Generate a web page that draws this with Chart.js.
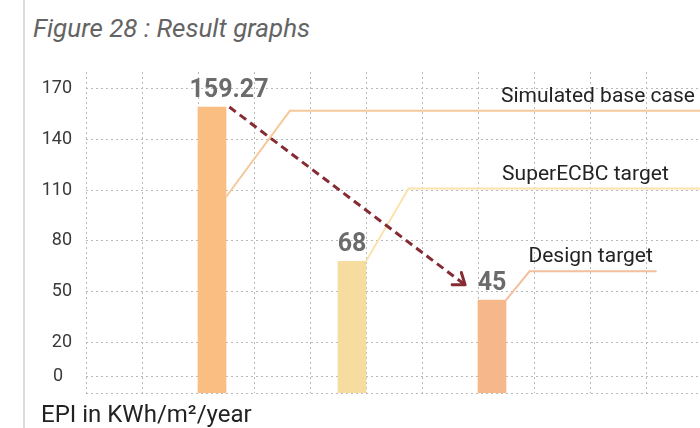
<!DOCTYPE html>
<html>
<head>
<meta charset="utf-8">
<title>Result graphs</title>
<script src="https://cdn.jsdelivr.net/npm/chart.js@4.4.1/dist/chart.umd.min.js"></script>
<style>
  html, body { margin: 0; padding: 0; background: #fff; overflow: hidden; }
  #page { position: relative; width: 700px; height: 428px; overflow: hidden; background: #fff; }
  #rule { position: absolute; left: 23px; top: 0; width: 2px; height: 428px; background: #dcdcdc; }
  #caption { position: absolute; left: 33px; top: 13px; font: italic 26px Roboto, sans-serif; color: #646464; white-space: nowrap; }
  #unit { position: absolute; left: 41px; top: 400px; font: 24px Roboto, sans-serif; color: #222; white-space: nowrap; }
  #chart { position: absolute; left: 0; top: 0; }
</style>
</head>
<body>
<div id="page">
  <div id="rule"></div>
  <div id="caption">Figure 28 : Result graphs</div>
  <canvas id="chart" width="702" height="428"></canvas>
  <div id="unit">EPI in KWh/m²/year</div>
</div>
<script>
// Energy performance index (kWh/m²/year) for each case
const categories = ['Simulated base case', 'SuperECBC target', 'Design target'];
const epiValues = [159.27, 68, 45];
const yTickValues = [0, 20, 50, 80, 110, 140, 170];

// ---- layout of the figure (axis units) ----
const Y_FLOOR = -10, Y_TOP = 180;       // bars rise from the bottom grid line
const COLUMNS = 11;                     // vertical grid columns
const FIRST_BAR = 2.25, BAR_STEP = 2.5, HALF_BAR = 0.25;
const barColors = ['#fabd82', '#f7dc9f', '#f6b78b'];
const leaderColors = ['#f5c99b', '#fae3ad', '#f4bf9c'];
// callout leader from each bar: start height, bend x, label level, end x, text x
const leaders = [
  { from: 106, bendX: 3.64, level: 157, toX: COLUMNS, textX: 7.41 },
  { from: epiValues[1], bendX: 5.76, level: 111, toX: COLUMNS, textX: 7.43 },
  { from: epiValues[2], bendX: 7.92, level: 62, toX: 10.19, textX: 7.9 }
];
// dashed reduction arrow from the base case toward the design target
const arrowFrom = { x: 2.56, y: epiValues[0] };
const arrowTo = { x: 6.77, y: 54 };

const barX = i => FIRST_BAR + i * BAR_STEP;

const datasets = [
  {
    type: 'line',
    label: 'reduction',
    data: [arrowFrom, arrowTo],
    borderColor: '#852b33',
    borderWidth: 3,
    borderDash: [8, 5],
    pointRadius: 0,
    arrowHead: true,
    order: 0
  },
  ...leaders.map((l, i) => ({
    type: 'line',
    label: categories[i],
    data: [
      { x: barX(i) + HALF_BAR, y: l.from },
      { x: l.bendX, y: l.level },
      { x: l.toX, y: l.level }
    ],
    borderColor: leaderColors[i],
    borderWidth: 2,
    pointRadius: 0,
    tension: 0,
    calloutText: categories[i],
    calloutX: l.textX,
    order: 1
  })),
  {
    type: 'bar',
    label: 'EPI',
    data: epiValues.map((v, i) => ({ x: barX(i), y: [Y_FLOOR, v] })),
    backgroundColor: barColors,
    borderWidth: 0,
    barThickness: 28,
    valueLabelShift: [17, 0, 0],
    order: 2
  }
];

// value printed above every bar
const valueLabels = {
  id: 'valueLabels',
  afterDatasetsDraw(chart) {
    const ctx = chart.ctx;
    chart.data.datasets.forEach((ds, di) => {
      if (ds.type !== 'bar') return;
      const meta = chart.getDatasetMeta(di);
      meta.data.forEach((el, i) => {
        ctx.save();
        ctx.font = 'bold 25px Roboto, sans-serif';
        ctx.fillStyle = '#6b6b6b';
        ctx.textAlign = 'center';
        ctx.textBaseline = 'alphabetic';
        ctx.fillText(String(epiValues[i]), el.x + (ds.valueLabelShift[i] || 0), el.y - 10);
        ctx.restore();
      });
    });
  }
};

// case name written above each callout leader
const calloutLabels = {
  id: 'calloutLabels',
  afterDatasetsDraw(chart) {
    const ctx = chart.ctx;
    const xs = chart.scales.x, ys = chart.scales.y;
    chart.data.datasets.forEach(ds => {
      if (!ds.calloutText) return;
      const level = ds.data[ds.data.length - 1].y;
      ctx.save();
      ctx.font = '21px Roboto, sans-serif';
      ctx.fillStyle = '#232323';
      ctx.textAlign = 'left';
      ctx.textBaseline = 'alphabetic';
      ctx.fillText(ds.calloutText, xs.getPixelForValue(ds.calloutX), ys.getPixelForValue(level) - 9);
      ctx.restore();
    });
  }
};

// open arrow head at the end of the dashed line
const arrowHeads = {
  id: 'arrowHeads',
  afterDatasetsDraw(chart) {
    const ctx = chart.ctx;
    chart.data.datasets.forEach((ds, di) => {
      if (!ds.arrowHead) return;
      const pts = chart.getDatasetMeta(di).data;
      const a = pts[pts.length - 2], b = pts[pts.length - 1];
      const ang = Math.atan2(b.y - a.y, b.x - a.x);
      const len = 13, spread = Math.PI / 5;
      ctx.save();
      ctx.strokeStyle = ds.borderColor;
      ctx.lineWidth = 3;
      ctx.lineCap = 'round';
      ctx.lineJoin = 'round';
      ctx.beginPath();
      ctx.moveTo(b.x - len * Math.cos(ang - spread), b.y - len * Math.sin(ang - spread));
      ctx.lineTo(b.x, b.y);
      ctx.lineTo(b.x - len * Math.cos(ang + spread), b.y - len * Math.sin(ang + spread));
      ctx.stroke();
      ctx.restore();
    });
  }
};

const gridStyle = { color: '#b9b9b9', lineWidth: 1, drawTicks: false, offset: false };

new Chart(document.getElementById('chart'), {
  type: 'bar',
  data: { datasets },
  options: {
    responsive: false,
    animation: false,
    events: [],
    layout: { padding: { top: 72, bottom: 35, left: 0, right: 0 } },
    plugins: { legend: { display: false }, tooltip: { enabled: false }, title: { display: false } },
    scales: {
      x: {
        type: 'linear',
        offset: false,
        min: 0,
        max: COLUMNS,
        grid: gridStyle,
        border: { display: false, dash: [2, 3] },
        ticks: { display: false, stepSize: 1 },
        afterFit(scale) { scale.height = 0; }
      },
      y: {
        type: 'linear',
        min: Y_FLOOR,
        max: Y_TOP,
        grid: gridStyle,
        border: { display: false, dash: [2, 3] },
        afterBuildTicks(scale) {
          scale.ticks = [Y_FLOOR, ...yTickValues].map(v => ({ value: v }));
        },
        afterFit(scale) { scale.width = 86; },
        ticks: {
          padding: 14,
          color: '#3a3a3a',
          font: { family: 'Roboto', size: 18 },
          callback: v => (v === Y_FLOOR ? '' : v === 0 ? '0  ' : String(v))
        }
      }
    }
  },
  plugins: [valueLabels, calloutLabels, arrowHeads]
});
</script>
</body>
</html>
